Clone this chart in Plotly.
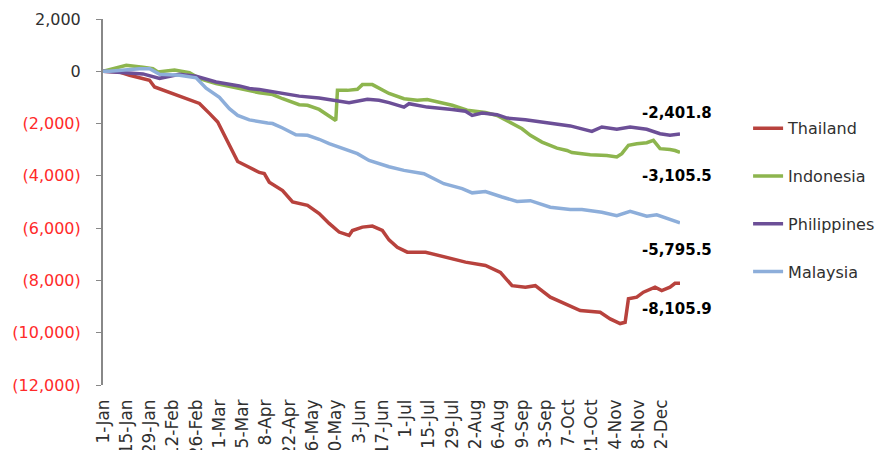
import plotly.graph_objects as go

# ---------------- data ----------------
th_dates = ["2020-01-01", "2020-01-11", "2020-01-17", "2020-01-29", "2020-02-01", "2020-02-08",
            "2020-02-18", "2020-02-22", "2020-02-28", "2020-03-05", "2020-03-10", "2020-03-15",
            "2020-03-19", "2020-03-22", "2020-03-28", "2020-04-04", "2020-04-07", "2020-04-10",
            "2020-04-18", "2020-04-24", "2020-05-03", "2020-05-10", "2020-05-16", "2020-05-22",
            "2020-05-28", "2020-05-30", "2020-06-05", "2020-06-11", "2020-06-17", "2020-06-21",
            "2020-06-26", "2020-07-02", "2020-07-13", "2020-07-25", "2020-08-06", "2020-08-18",
            "2020-08-27", "2020-09-03", "2020-09-11", "2020-09-17", "2020-09-26", "2020-10-03",
            "2020-10-14", "2020-10-26", "2020-11-01", "2020-11-07", "2020-11-10", "2020-11-12",
            "2020-11-17", "2020-11-21", "2020-11-28", "2020-12-02", "2020-12-07", "2020-12-10",
            "2020-12-13"]
thailand = [0, -30, -150, -345, -600, -770,
            -980, -1110, -1230, -1610, -1940, -2570,
            -3090, -3450, -3640, -3870, -3910, -4240,
            -4560, -5000, -5130, -5440, -5820, -6150,
            -6280, -6090, -5960, -5920, -6090, -6450,
            -6730, -6920, -6920, -7110, -7300, -7430,
            -7690, -8200, -8260, -8200, -8640, -8840,
            -9150, -9220, -9470, -9650, -9600, -8700,
            -8640, -8450, -8260, -8390, -8260, -8110,
            -8105.9]

id_dates = ["2020-01-01", "2020-01-09", "2020-01-15", "2020-01-25", "2020-01-31", "2020-02-03",
            "2020-02-13", "2020-02-22", "2020-02-28", "2020-03-09", "2020-03-23", "2020-04-04",
            "2020-04-12", "2020-04-18", "2020-04-28", "2020-05-03", "2020-05-10", "2020-05-16",
            "2020-05-20", "2020-05-21", "2020-05-27", "2020-06-02", "2020-06-05", "2020-06-11",
            "2020-06-15", "2020-06-21", "2020-06-30", "2020-07-08", "2020-07-14", "2020-07-20",
            "2020-07-29", "2020-08-07", "2020-08-18", "2020-08-25", "2020-09-03", "2020-09-09",
            "2020-09-14", "2020-09-21", "2020-09-30", "2020-10-06", "2020-10-09", "2020-10-20",
            "2020-10-30", "2020-11-05", "2020-11-08", "2020-11-12", "2020-11-17", "2020-11-23",
            "2020-11-27", "2020-12-01", "2020-12-07", "2020-12-10", "2020-12-13"]
indonesia = [0, 120, 230, 150, 100, -25,
             50, -50, -280, -470, -660, -820,
             -890, -1050, -1280, -1300, -1460, -1690,
             -1880, -730, -730, -690, -510, -510,
             -660, -850, -1050, -1110, -1080, -1180,
             -1300, -1490, -1580, -1690, -2000, -2200,
             -2450, -2710, -2940, -3030, -3110, -3190,
             -3220, -3280, -3150, -2830, -2770, -2730,
             -2640, -2960, -2990, -3030, -3105.5]

ph_dates = ["2020-01-01", "2020-01-15", "2020-01-25", "2020-02-04", "2020-02-16", "2020-02-26",
            "2020-03-09", "2020-03-23", "2020-03-29", "2020-04-04", "2020-04-16", "2020-04-28",
            "2020-05-10", "2020-05-22", "2020-05-28", "2020-06-08", "2020-06-15", "2020-06-21",
            "2020-06-30", "2020-07-03", "2020-07-14", "2020-07-29", "2020-08-06", "2020-08-10",
            "2020-08-16", "2020-08-25", "2020-08-31", "2020-09-11", "2020-09-17", "2020-09-26",
            "2020-10-08", "2020-10-21", "2020-10-27", "2020-11-05", "2020-11-13", "2020-11-23",
            "2020-12-01", "2020-12-07", "2020-12-13"]
philippines = [0, -40, -100, -270, -115, -190,
               -410, -560, -660, -700, -820, -950,
               -1020, -1150, -1200, -1070, -1110, -1200,
               -1370, -1240, -1370, -1460, -1530, -1690,
               -1600, -1660, -1790, -1850, -1900, -2000,
               -2090, -2300, -2130, -2220, -2130, -2220,
               -2390, -2450, -2401.8]

my_dates = ["2020-01-01", "2020-01-05", "2020-01-23", "2020-01-29", "2020-02-04", "2020-02-16",
            "2020-02-26", "2020-03-03", "2020-03-11", "2020-03-17", "2020-03-22", "2020-03-29",
            "2020-04-09", "2020-04-12", "2020-04-18", "2020-04-26", "2020-05-03", "2020-05-10",
            "2020-05-16", "2020-05-27", "2020-06-02", "2020-06-09", "2020-06-15", "2020-06-21",
            "2020-06-30", "2020-07-12", "2020-07-24", "2020-08-04", "2020-08-10", "2020-08-18",
            "2020-08-28", "2020-09-06", "2020-09-14", "2020-09-26", "2020-10-08", "2020-10-15",
            "2020-10-27", "2020-11-05", "2020-11-13", "2020-11-23", "2020-11-29", "2020-12-07",
            "2020-12-13"]
malaysia = [0, 0, 100, 100, -115, -150,
            -250, -650, -1000, -1430, -1690, -1860,
            -1980, -2000, -2170, -2430, -2450, -2600,
            -2770, -3000, -3150, -3410, -3540, -3650,
            -3790, -3920, -4300, -4490, -4650, -4600,
            -4810, -4980, -4950, -5200, -5290, -5290,
            -5390, -5520, -5360, -5540, -5490, -5670,
            -5795.5]

x_tickvals = ["2020-01-01", "2020-01-15", "2020-01-29", "2020-02-12", "2020-02-26", "2020-03-11",
              "2020-03-25", "2020-04-08", "2020-04-22", "2020-05-06", "2020-05-20", "2020-06-03",
              "2020-06-17", "2020-07-01", "2020-07-15", "2020-07-29", "2020-08-12", "2020-08-26",
              "2020-09-09", "2020-09-23", "2020-10-07", "2020-10-21", "2020-11-04", "2020-11-18",
              "2020-12-02"]
x_ticktext = ["1-Jan", "15-Jan", "29-Jan", "12-Feb", "26-Feb", "11-Mar", "25-Mar", "8-Apr",
              "22-Apr", "6-May", "20-May", "3-Jun", "17-Jun", "1-Jul", "15-Jul", "29-Jul",
              "12-Aug", "26-Aug", "9-Sep", "23-Sep", "7-Oct", "21-Oct", "4-Nov", "18-Nov", "2-Dec"]
x_range = ["2020-01-01", "2020-12-13"]

y_tickvals = [2000, 0, -2000, -4000, -6000, -8000, -10000, -12000]
y_ticktext = ["2,000", "0",
              "<span style='color:#FF2A2A'>(2,000)</span>",
              "<span style='color:#FF2A2A'>(4,000)</span>",
              "<span style='color:#FF2A2A'>(6,000)</span>",
              "<span style='color:#FF2A2A'>(8,000)</span>",
              "<span style='color:#FF2A2A'>(10,000)</span>",
              "<span style='color:#FF2A2A'>(12,000)</span>"]
y_range = [-12000, 2000]

series_names = ["Thailand", "Indonesia", "Philippines", "Malaysia"]
series_colors = ["#B8423D", "#8DB54E", "#6C4F97", "#8DAEDA"]
label_yshift = [-26, -24, 21, -27]

# ---------------- figure ----------------
FONT = "'DejaVu Sans', Verdana, sans-serif"
fig = go.Figure()
all_dates = [th_dates, id_dates, ph_dates, my_dates]
all_vals = [thailand, indonesia, philippines, malaysia]
for name, d, v, c in zip(series_names, all_dates, all_vals, series_colors):
    fig.add_trace(go.Scatter(x=d, y=v, mode="lines", name=name, legendgroup=name,
                             line=dict(color=c, width=3.5), hoverinfo="skip"))

for d, v, ys in zip(all_dates, all_vals, label_yshift):
    fig.add_annotation(x=d[-1], y=v[-1], xref="x", yref="y", text=f"<b>{v[-1]:,.1f}</b>",
                       showarrow=False, xshift=-3, yshift=ys,
                       font=dict(family=FONT, size=15, color="#000000"))

zero_pos = (0 - y_range[0]) / (y_range[1] - y_range[0])

fig.update_layout(
    width=889, height=450,
    margin=dict(l=95, r=217, t=11, b=73, autoexpand=False),
    paper_bgcolor="white", plot_bgcolor="white",
    font=dict(family=FONT, size=15, color="#404040"),
    showlegend=True,
    xaxis=dict(type="date", range=x_range, tickvals=x_tickvals, ticktext=x_ticktext,
               tickangle=-90, showgrid=False, zeroline=False, showline=False, ticks="",
               ticklabelstandoff=10, automargin=False,
               tickfont=dict(family=FONT, size=17, color="#303030")),
    xaxis2=dict(type="date", overlaying="x", anchor="free", position=zero_pos, range=x_range,
                tickvals=x_tickvals, showticklabels=False, ticks="inside", ticklen=5,
                tickcolor="#888888", tickwidth=1, showline=True, linecolor="#888888",
                linewidth=1.5, showgrid=False, zeroline=False, automargin=False),
    yaxis=dict(range=y_range, tickvals=y_tickvals, ticktext=y_ticktext, showgrid=False,
               zeroline=False, showline=True, linecolor="#888888", linewidth=2,
               ticks="outside", ticklen=5, tickcolor="#888888", ticklabelstandoff=12,
               automargin=False, tickfont=dict(family=FONT, size=16, color="#303030")),
    legend=dict(x=1.118, y=0.748, xanchor="left", yanchor="top", traceorder="grouped",
                tracegroupgap=24, font=dict(family=FONT, size=16, color="#303030"),
                bgcolor="rgba(0,0,0,0)"),
)

fig.write_html("out.html", config={"displayModeBar": False})
